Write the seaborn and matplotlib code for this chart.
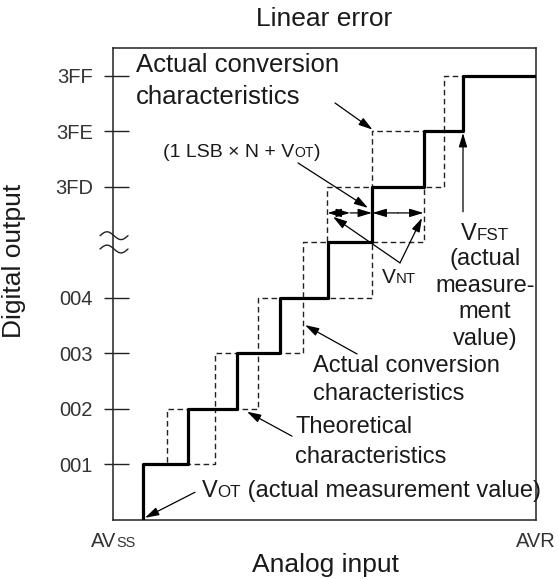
import numpy as np
import matplotlib
matplotlib.use("Agg")
import matplotlib.pyplot as plt
import matplotlib.transforms as mtransforms
import seaborn as sns

# ---------------- data ----------------
x_range = [0, 423]                      # AVss .. AVR (analog input)
code_levels = [1, 2, 3, 4, 6, 7, 8]     # digital output codes shown on the axis
code_labels = ["001", "002", "003", "004", "3FD", "3FE", "3FF"]
break_level = 5                         # axis break (omitted codes)

# actual conversion characteristic: input at which output steps up to level k
step_x = [30, 75, 124, 167, 215, 259, 311, 350]
step_level = [0, 1, 2, 3, 4, 5, 6, 7, 8]

# dashed envelopes around transitions into level k
box_level = [2, 3, 4, 5, 6, 7, 8]
box_left = [54, 102, 145, 190, 214, 259, 331]
box_right = [102, 145, 190, 259, 311, 331, None]

TXT = "#1a1a1a"

sns.set_theme(style="white")
plt.rcParams["font.family"] = ["Liberation Sans", "DejaVu Sans"]

fig = plt.figure(figsize=(5.59, 5.79), dpi=100, facecolor="white")
ax = fig.add_axes([113 / 559, 1 - 520 / 579, 423 / 559, 472 / 579])
ax.set_xlim(*x_range)
ax.set_ylim(0, 8.5)

# dashed boxes
for lv, a, b in zip(box_level, box_left, box_right):
    if b is None:
        s = step_x[lv - 1]
        ax.plot([a, a, s], [lv - 1, lv, lv], color="#222", lw=1.0,
                dashes=(4, 2.5), zorder=2)
    else:
        ax.plot([a, b, b, a, a], [lv - 1, lv - 1, lv, lv, lv - 1], color="#222",
                lw=1.0, dashes=(4, 2.5), zorder=2)

# solid staircase
sns.lineplot(x=step_x + [x_range[1]], y=step_level, drawstyle="steps-pre",
             color="black", lw=2.3, ax=ax, zorder=3, sort=False)
ax.set_xlabel("")
ax.set_ylabel("")

# spines
for sp in ax.spines.values():
    sp.set_color("#222")
    sp.set_linewidth(1.1)
    sp.set_visible(True)

# ticks
ax.set_xticks([])
ax.set_yticks(code_levels)
ax.set_yticklabels(code_labels, fontsize=14.5, color="#333")
ax.set_yticks(code_levels, minor=True)
ax.yaxis.remove_overlapping_locs = False
ax.tick_params(axis="y", which="major", direction="in", length=11.5, width=1.0,
               pad=14.4, left=True, color="#222")
ax.tick_params(axis="y", which="minor", direction="out", length=6.5, width=1.0,
               left=True, labelleft=False, color="#222")

# axis break squiggle
t = np.linspace(0, 1, 60)
for dy in (0.12, -0.12):
    ax.plot(-13 + 28 * t, break_level + dy + 0.07 * np.sin(2 * np.pi * t),
            color="#222", lw=1.0, clip_on=False, zorder=5)

renderer = fig.canvas.get_renderer()


def mixed(x, y, parts, size, ha="left", color=TXT):
    arts, widths = [], []
    for s, small in parts:
        fs = size * 0.72 if small else size
        tx = ax.text(x, y, s, fontsize=fs, ha="left", va="baseline",
                     color=color, clip_on=False, zorder=6)
        widths.append(tx.get_window_extent(renderer).width)
        arts.append(tx)
    total = sum(widths)
    off = {"left": 0, "center": -total / 2, "right": -total}[ha]
    for tx, w in zip(arts, widths):
        tx.set_transform(ax.transData + mtransforms.ScaledTranslation(
            off / fig.dpi, 0, fig.dpi_scale_trans))
        off += w
    return arts


def lines(x, y0, texts, step, size, ha="left"):
    for i, s in enumerate(texts):
        ax.text(x, y0 - i * step, s, fontsize=size, ha=ha, va="baseline",
                color=TXT, clip_on=False, zorder=6)


def arrow(tail, tip, style="-|>"):
    ax.annotate("", xy=tip, xytext=tail, annotation_clip=False,
                arrowprops=dict(arrowstyle=style + ",head_length=0.6,head_width=0.18",
                                color="black", lw=0.9, shrinkA=0, shrinkB=0,
                                mutation_scale=14), zorder=6)


# x "tick" labels
mixed(0, -0.49, [("AV", False), ("SS", True)], 14.5, ha="center", color="#333")
mixed(423, -0.49, [("AVR", False)], 14.5, ha="center", color="#333")

# annotations
lines(23, 8.06, ["Actual conversion", "characteristics"], 0.56, 18.5)
arrow((222, 7.51), (259.5, 7.03))

mixed(50, 6.54, [("(1 LSB \u00d7 N + V", False), ("OT", True), (")", False)], 14)
arrow((185, 6.43), (255, 5.62))

arrow((237, 5.53), (214.5, 5.53), "<|-|>")
arrow((237, 5.53), (259, 5.53), "-|>")
arrow((285, 5.53), (259.5, 5.53), "-|>")
arrow((285, 5.53), (310.5, 5.53), "-|>")

mixed(269, 4.27, [("V", False), ("NT", True)], 15)
arrow((287, 4.63), (220, 5.46))
arrow((287, 4.63), (309, 5.44))

mixed(372, 5.05, [("V", False), ("FST", True)], 17, ha="center")
lines(372, 4.59, ["(actual", "measure-", "ment", "value)"], 0.48, 17, ha="center")
arrow((350, 5.55), (350, 6.97))

lines(200, 2.67, ["Actual conversion", "characteristics"], 0.51, 17)
arrow((244, 2.99), (192, 3.51))

lines(182, 1.57, ["Theoretical", "characteristics"], 0.54, 17)
arrow((179, 1.51), (134, 1.95))

mixed(89, 0.41, [("V", False), ("OT", True), (" (actual measurement value)", False)], 17)
arrow((82, 0.50), (32, 0.04))

# titles / labels
ax.set_title("Linear error", fontsize=19, pad=15.8, color=TXT)
ax.set_xlabel("Analog input", fontsize=19, color=TXT)
ax.xaxis.set_label_coords(0.5035, -0.069)
ax.set_ylabel("Digital output", fontsize=19, color=TXT)
ax.yaxis.set_label_coords(-0.206, 0.549)

fig.savefig("out.png", dpi=100, facecolor="white")
